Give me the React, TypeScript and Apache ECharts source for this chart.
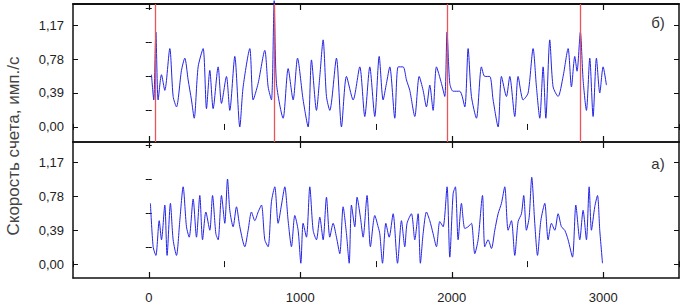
import React, { useEffect, useRef } from "react";
import * as echarts from "echarts";

// Upper panel (б)
const topX = [18, 33, 47, 62, 84, 106, 139, 161, 183, 216, 238, 260, 282, 300, 326, 359, 381, 403, 425, 458, 480, 513, 535, 568, 601, 623, 667, 689, 722, 766, 788, 810, 828, 843, 887, 920, 953, 982, 1019, 1052, 1074, 1107, 1129, 1151, 1173, 1195, 1239, 1272, 1305, 1349, 1393, 1426, 1459, 1492, 1521, 1547, 1569, 1591, 1624, 1646, 1679, 1701, 1723, 1756, 1785, 1811, 1833, 1855, 1877, 1899, 1932, 1954, 1969, 1987, 2009, 2053, 2086, 2108, 2130, 2163, 2196, 2218, 2251, 2273, 2306, 2328, 2361, 2383, 2416, 2438, 2471, 2504, 2537, 2559, 2581, 2603, 2621, 2647, 2669, 2702, 2735, 2768, 2790, 2812, 2827, 2849, 2867, 2889, 2911, 2933, 2955, 2977, 2999, 3021];
const topY = [0.60, 0.31, 1.09, 0.31, 0.60, 0.42, 0.90, 0.35, 0.23, 0.65, 0.79, 0.54, 0.31, 0.10, 0.69, 0.90, 0.21, 0.65, 0.21, 0.69, 0.27, 0.58, 0.19, 0.81, 0.00, 0.46, 0.90, 0.31, 0.50, 0.88, 0.46, 0.31, 1.45, 0.50, 0.10, 0.67, 0.31, 0.79, 0.31, 0.00, 0.77, 0.19, 0.58, 1.00, 0.35, 0.19, 0.79, 0.00, 0.58, 0.31, 0.69, 0.12, 0.69, 0.12, 0.81, 0.31, 0.50, 0.69, 0.10, 0.69, 0.69, 0.54, 0.42, 0.12, 0.58, 0.42, 0.23, 0.48, 0.19, 0.69, 0.50, 0.35, 1.09, 0.50, 0.41, 0.41, 0.23, 0.90, 0.35, 0.10, 0.69, 0.58, 0.58, 0.31, 0.00, 0.58, 0.35, 0.58, 0.12, 0.58, 0.31, 0.39, 0.90, 0.46, 0.10, 0.69, 0.10, 1.00, 0.46, 0.35, 0.58, 0.90, 0.46, 0.81, 0.64, 1.09, 0.54, 0.19, 0.79, 0.12, 0.79, 0.39, 0.69, 0.48];

// Lower panel (а)
const botX = [11, 29, 47, 69, 84, 106, 121, 143, 161, 183, 205, 227, 249, 267, 293, 315, 337, 355, 377, 403, 421, 443, 458, 480, 502, 520, 535, 557, 579, 601, 634, 656, 678, 700, 722, 744, 766, 788, 810, 832, 854, 876, 898, 920, 942, 964, 986, 1004, 1019, 1041, 1063, 1085, 1107, 1129, 1151, 1173, 1195, 1217, 1239, 1261, 1283, 1305, 1323, 1338, 1360, 1375, 1397, 1415, 1441, 1463, 1492, 1514, 1525, 1543, 1565, 1587, 1613, 1642, 1668, 1690, 1705, 1734, 1756, 1778, 1793, 1811, 1833, 1855, 1877, 1899, 1921, 1943, 1969, 1987, 2009, 2024, 2042, 2064, 2086, 2108, 2130, 2152, 2174, 2203, 2218, 2240, 2262, 2284, 2306, 2328, 2350, 2372, 2394, 2416, 2438, 2460, 2475, 2493, 2511, 2528, 2548, 2566, 2588, 2614, 2636, 2658, 2680, 2702, 2724, 2746, 2768, 2797, 2819, 2845, 2867, 2889, 2907, 2922, 2944, 2962, 2977, 2995];
const botY = [0.70, 0.20, 0.10, 0.50, 0.28, 0.68, 0.10, 0.70, 0.28, 0.10, 0.50, 0.89, 0.43, 0.31, 0.75, 0.31, 0.79, 0.28, 0.60, 0.39, 0.79, 0.35, 0.28, 0.79, 0.47, 0.98, 0.62, 0.43, 0.66, 0.43, 0.20, 0.39, 0.60, 0.50, 0.60, 0.68, 0.28, 0.20, 0.72, 0.89, 0.47, 0.68, 0.89, 0.50, 0.20, 0.56, 0.39, 0.01, 0.47, 0.31, 0.89, 0.39, 0.28, 0.54, 0.28, 0.77, 0.31, 0.47, 0.31, 0.12, 0.66, 0.35, 0.01, 0.68, 0.43, 0.77, 0.54, 0.31, 0.79, 0.20, 0.56, 0.43, 0.35, 0.01, 0.47, 0.31, 0.58, 0.01, 0.50, 0.20, 0.47, 0.58, 0.28, 0.58, 0.01, 0.35, 0.60, 0.50, 0.35, 0.20, 0.49, 0.43, 0.89, 0.08, 0.81, 0.89, 0.28, 0.70, 0.41, 0.43, 0.47, 0.12, 0.28, 0.79, 0.20, 0.28, 0.18, 0.39, 0.58, 0.70, 0.89, 0.39, 0.50, 0.10, 0.49, 0.58, 0.79, 0.39, 0.54, 1.00, 0.47, 0.10, 0.50, 0.70, 0.28, 0.47, 0.39, 0.58, 0.43, 0.39, 0.28, 0.08, 0.68, 0.28, 0.62, 0.28, 0.89, 0.39, 0.66, 0.79, 0.39, 0.01];

const markerX = [46, 828, 1968, 2850];
const xTicks = [0, 1000, 2000, 3000];
const xMinorTicks = [-500, 500, 1500, 2500, 3500];
const yTicks = [0, 0.39, 0.78, 1.17];
const yMinorTicks = [0.195, 0.585, 0.975, 1.365];
const yName = "Скорость счета, имп./с";
const panelLabels = ["б)", "а)"];

const FONT = "'Liberation Sans', Arial, sans-serif";
const AXIS_COLOR = "#111";

export default function App() {
  const ref = useRef<HTMLDivElement>(null);

  useEffect(() => {
    if (!ref.current) return;
    const chart = echarts.init(ref.current, undefined, { renderer: "svg" });

    const grids = [
      { left: 73, top: 4, width: 606, height: 138 },
      { left: 73, top: 142, width: 606, height: 136 },
    ];
    const yRanges = [
      { min: -0.173, max: 1.412 },
      { min: -0.16, max: 1.406 },
    ];

    const xAxes: any[] = [];
    const yAxes: any[] = [];
    grids.forEach((_, gi) => {
      ["bottom", "top"].forEach((pos) => {
        xAxes.push({
          type: "value",
          gridIndex: gi,
          position: pos,
          min: -500,
          max: 3500,
          axisLine: { show: true, onZero: false, lineStyle: { color: AXIS_COLOR, width: pos === "top" && gi === 0 ? 2 : 1.5 } },
          axisTick: { show: true, inside: true, length: 6, customValues: xTicks, lineStyle: { color: AXIS_COLOR, width: 1.2 } },
          axisLabel: {
            show: gi === 1 && pos === "bottom",
            customValues: xTicks,
            formatter: (v: number) => String(v),
            margin: 13,
            color: "#222",
            fontSize: 13,
            fontFamily: FONT,
          },
          splitLine: { show: false },
        });
        xAxes.push({
          type: "value",
          gridIndex: gi,
          position: pos,
          min: -500,
          max: 3500,
          axisLine: { show: false },
          axisTick: { show: true, inside: true, length: 3, customValues: xMinorTicks, lineStyle: { color: AXIS_COLOR, width: 1 } },
          axisLabel: { show: false },
          splitLine: { show: false },
        });
      });
      ["left", "right"].forEach((pos) => {
        yAxes.push({
          type: "value",
          gridIndex: gi,
          position: pos,
          min: yRanges[gi].min,
          max: yRanges[gi].max,
          axisLine: { show: true, onZero: false, lineStyle: { color: AXIS_COLOR, width: 1.5 } },
          axisTick: { show: true, inside: true, length: 5, customValues: yTicks, lineStyle: { color: AXIS_COLOR, width: 1 } },
          axisLabel: {
            show: pos === "left",
            customValues: yTicks,
            formatter: (v: number) => v.toFixed(2).replace(".", ","),
            margin: 9,
            color: "#222",
            fontSize: 13,
            fontFamily: FONT,
          },
          splitLine: { show: false },
        });
        yAxes.push({
          type: "value",
          gridIndex: gi,
          position: pos,
          min: yRanges[gi].min,
          max: yRanges[gi].max,
          axisLine: { show: false },
          axisTick: { show: true, inside: true, length: 3, customValues: yMinorTicks, lineStyle: { color: AXIS_COLOR, width: 1 } },
          axisLabel: { show: false },
          splitLine: { show: false },
        });
      });
    });

    const option: any = {
      animation: false,
      backgroundColor: "#fff",
      grid: grids,
      xAxis: xAxes,
      yAxis: yAxes,
      graphic: [
        {
          type: "text",
          x: 13,
          y: 146,
          rotation: Math.PI / 2,
          style: {
            text: yName,
            font: `17px ${FONT}`,
            fill: "#444",
            textAlign: "center",
            textVerticalAlign: "middle",
          },
        },
        {
          type: "text",
          x: 658,
          y: 22,
          style: { text: panelLabels[0], font: `15px ${FONT}`, fill: "#333", textAlign: "center", textVerticalAlign: "middle" },
        },
        {
          type: "text",
          x: 658,
          y: 163,
          style: { text: panelLabels[1], font: `15px ${FONT}`, fill: "#333", textAlign: "center", textVerticalAlign: "middle" },
        },
      ],
      series: [
        {
          type: "line",
          xAxisIndex: 0,
          yAxisIndex: 0,
          data: [],
          z: 1,
          silent: true,
          markLine: {
            symbol: "none",
            silent: true,
            label: { show: false },
            lineStyle: { color: "#e8555a", width: 1.3, type: "solid" },
            data: markerX.map((x) => ({ xAxis: x })),
          },
        },
        {
          type: "line",
          xAxisIndex: 0,
          yAxisIndex: 0,
          z: 3,
          clip: false,
          smooth: 0.25,
          showSymbol: false,
          symbol: "none",
          lineStyle: { color: "#2424e6", width: 1 },
          data: topX.map((x, i) => [x, topY[i]]),
        },
        {
          type: "line",
          xAxisIndex: 4,
          yAxisIndex: 4,
          z: 3,
          smooth: 0.25,
          showSymbol: false,
          symbol: "none",
          lineStyle: { color: "#2424e6", width: 1 },
          data: botX.map((x, i) => [x, botY[i]]),
        },
      ],
    };

    chart.setOption(option);
    return () => chart.dispose();
  }, []);

  return (
    <div
      ref={ref}
      style={{ position: "absolute", left: 0, top: 0, width: 685, height: 307, background: "#fff" }}
    />
  );
}
